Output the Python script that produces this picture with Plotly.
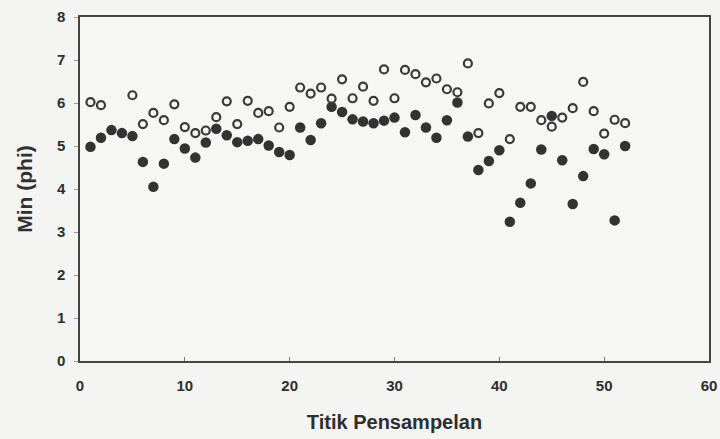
import plotly.graph_objects as go

# Sampling points
x_open = [1, 2] + list(range(5, 53))
y_open = [6.02, 5.95, 6.18, 5.51, 5.77, 5.60, 5.97, 5.44, 5.30, 5.36,
          5.67, 6.04, 5.51, 6.05, 5.77, 5.81, 5.43, 5.91, 6.36, 6.22,
          6.36, 6.10, 6.55, 6.11, 6.38, 6.05, 6.78, 6.11, 6.77, 6.67,
          6.48, 6.57, 6.32, 6.25, 6.92, 5.30, 5.99, 6.23, 5.16, 5.91,
          5.91, 5.60, 5.45, 5.66, 5.88, 6.49, 5.81, 5.29, 5.61, 5.53]

x_filled = list(range(1, 53))
y_filled = [4.98, 5.19, 5.37, 5.30, 5.23, 4.63, 4.05, 4.59, 5.16, 4.94,
            4.73, 5.08, 5.40, 5.25, 5.09, 5.12, 5.16, 5.01, 4.86, 4.79,
            5.43, 5.14, 5.53, 5.91, 5.79, 5.62, 5.57, 5.53, 5.59, 5.66,
            5.32, 5.72, 5.43, 5.19, 5.60, 6.01, 5.22, 4.44, 4.65, 4.90,
            3.24, 3.68, 4.13, 4.92, 5.70, 4.67, 3.65, 4.30, 4.93, 4.81,
            3.27, 5.00]

x_ticks = [0, 10, 20, 30, 40, 50, 60]
y_ticks = [0, 1, 2, 3, 4, 5, 6, 7, 8]

ink = "#2f2f2f"
fig = go.Figure()
fig.add_trace(go.Scatter(x=x_filled, y=y_filled, mode="markers",
                         marker=dict(size=10.5, color="#333333",
                                     line=dict(width=0)),
                         showlegend=False))
fig.add_trace(go.Scatter(x=x_open, y=y_open, mode="markers",
                         marker=dict(size=8, color="#f6f6f4",
                                     line=dict(width=2.2, color="#3a3a3a")),
                         showlegend=False))

font_family = "Liberation Sans, Arial, sans-serif"
fig.update_layout(
    width=720, height=439,
    margin=dict(l=80, r=11, t=17, b=78),
    paper_bgcolor="#f4f4f2", plot_bgcolor="#f6f6f4",
    font=dict(family=font_family, color=ink, size=15),
    xaxis=dict(range=[0, 60], tickvals=x_ticks, showgrid=False, zeroline=False,
               showline=True, linecolor="#444444", linewidth=1.5, mirror=True,
               ticks="inside", ticklen=4, tickcolor="#777777",
               ticklabelstandoff=10, automargin=False,
               tickfont=dict(size=15, family=font_family, weight="bold"),
               title=dict(text="<b>Titik Pensampelan</b>", font=dict(size=20), standoff=22)),
    yaxis=dict(range=[0, 8], tickvals=y_ticks, showgrid=False, zeroline=False,
               showline=True, linecolor="#444444", linewidth=1.5, mirror=True,
               ticks="outside", ticklen=4, tickcolor="#999999",
               ticklabelstandoff=6, automargin=False,
               tickfont=dict(size=15, family=font_family, weight="bold"),
               title=dict(text="<b>Min (phi)</b>", font=dict(size=21), standoff=19)),
)

fig.write_html("out.html", config={"displayModeBar": False},
               post_script="document.body.style.margin='0';document.body.style.background='#f4f4f2';")
